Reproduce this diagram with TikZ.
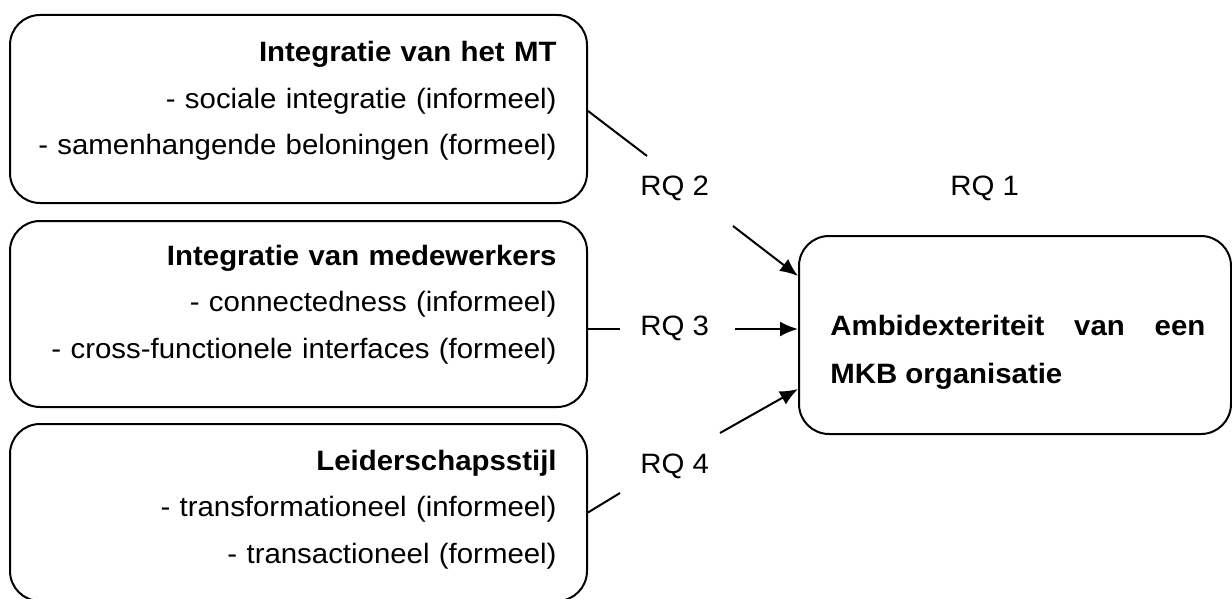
\documentclass[tikz,border=0pt]{standalone}
\usepackage{fontspec}
\setmainfont[FakeStretch=1.05]{Liberation Sans}
\usetikzlibrary{arrows.meta}

\begin{document}
\begin{tikzpicture}[x=0.5pt,y=-0.5pt,
	box/.style={draw,line width=1pt,rounded corners=15pt,minimum width=288.5pt,inner sep=0pt},
	boxtext/.style={align=right,text width=275pt,inner sep=0pt,anchor=base east,font=\fontsize{14}{23.25}\selectfont},
	rq/.style={anchor=base west,inner sep=0pt,font=\fontsize{14}{16}\selectfont},
	link/.style={line width=1pt},
	arr/.style={line width=1pt,-{Latex[length=9pt,width=7.5pt]}}]
		\useasboundingbox (0,0) rectangle (1232,599);
		\node[box,minimum height=94pt] (mtbox) at (298.5,109) {};
		\node[box,minimum height=93pt] (mwbox) at (298.5,314) {};
		\node[box,minimum height=88.5pt] (lsbox) at (298.5,512.5) {};
		\node[box,minimum width=216pt,minimum height=99pt] (orgbox) at (1015,335) {};
		\node[boxtext] (mttext) at (557,62) {\textbf{Integratie van het MT}\\- sociale integratie (informeel)\\- samenhangende beloningen (formeel)};
		\node[boxtext] (mwtext) at (557,265) {\textbf{Integratie van medewerkers}\\- connectedness (informeel)\\- cross-functionele interfaces (formeel)};
		\node[boxtext] (lstext) at (557,470) {\textbf{Leiderschapsstijl}\\- transformationeel (informeel)\\- transactioneel (formeel)};
		\node[anchor=base west,inner sep=0pt,text width=187.5pt,align=justify,font=\fontsize{14}{24}\selectfont\bfseries] (orgtext) at (830,335) {Ambidexteriteit van een MKB organisatie};
		\node[rq] (rq1) at (950,195) {RQ 1};
		\node[rq] (rq2) at (640,195) {RQ 2};
		\node[rq] (rq3) at (640,335) {RQ 3};
		\node[rq] (rq4) at (640,473) {RQ 4};
		\coordinate (rq2in) at (647,156);
		\coordinate (rq2out) at (733,226);
		\coordinate (rq3in) at (620,329);
		\coordinate (rq3out) at (735,329);
		\coordinate (rq4in) at (620,493);
		\coordinate (rq4out) at (720,433);
		\draw[link] ([yshift=-1pt]mtbox.east) -- (rq2in);
		\draw[arr] (rq2out) -- ([yshift=29.5pt]orgbox.west);
		\draw[link] ([yshift=-7.5pt]mwbox.east) -- (rq3in);
		\draw[arr] (rq3out) -- ([yshift=3pt]orgbox.west);
		\draw[link] (lsbox.east) -- (rq4in);
		\draw[arr] (rq4out) -- ([yshift=-27pt]orgbox.west);
	\end{tikzpicture}
\end{document}
